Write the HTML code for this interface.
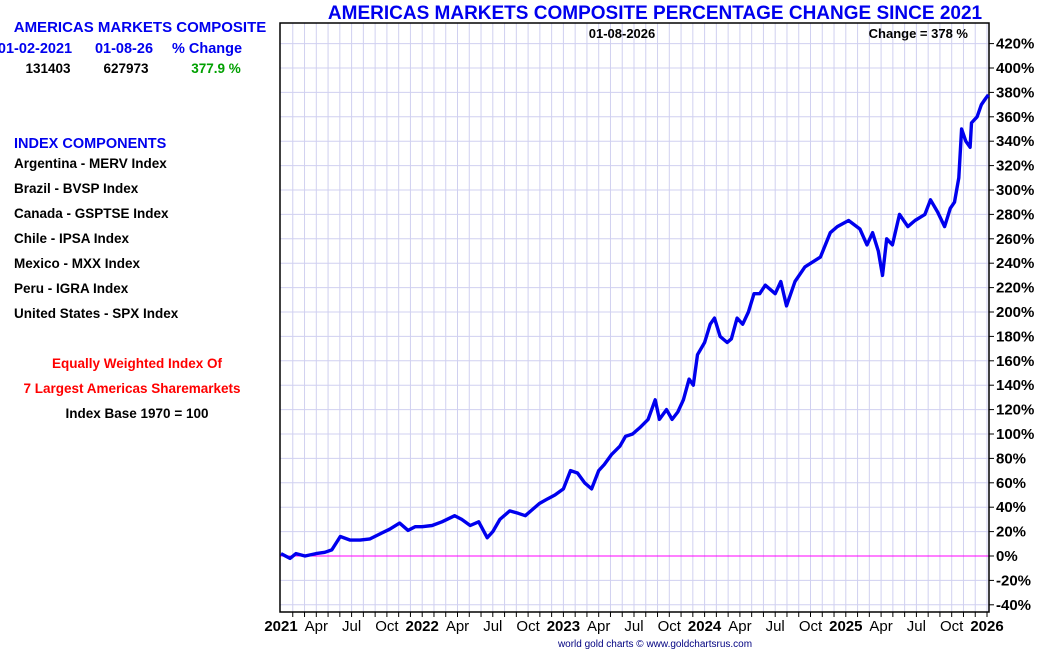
<!DOCTYPE html>
<html><head><meta charset="utf-8"><style>
body{margin:0;background:#fff;width:1050px;height:650px;overflow:hidden;font-family:"Liberation Sans",sans-serif}
svg text{font-family:"Liberation Sans",sans-serif;font-weight:bold}
</style></head><body>
<svg id="chart" width="1050" height="650">
<g id="grid"></g>
<g id="axes"></g>
<path id="series" fill="none" stroke="#0000ee" stroke-width="3.4" stroke-linejoin="round"/>
<text x="655" y="19" text-anchor="middle" font-size="19" fill="#0000ee">AMERICAS MARKETS COMPOSITE PERCENTAGE CHANGE SINCE 2021</text>
<text x="622" y="38" text-anchor="middle" font-size="13" fill="#000">01-08-2026</text>
<text x="968" y="38" text-anchor="end" font-size="13" fill="#000">Change = 378 %</text>
<text x="140" y="32" text-anchor="middle" font-size="15" fill="#0000ee">AMERICAS MARKETS COMPOSITE</text>
<text x="35" y="53" text-anchor="middle" font-size="14.5" fill="#0000ee">01-02-2021</text>
<text x="124" y="53" text-anchor="middle" font-size="14.5" fill="#0000ee">01-08-26</text>
<text x="207" y="53" text-anchor="middle" font-size="14.5" fill="#0000ee">% Change</text>
<text x="48" y="73" text-anchor="middle" font-size="13.5" fill="#000">131403</text>
<text x="126" y="73" text-anchor="middle" font-size="13.5" fill="#000">627973</text>
<text x="216" y="73" text-anchor="middle" font-size="13.5" fill="#00a000">377.9 %</text>
<text x="14" y="148" font-size="14.5" fill="#0000ee">INDEX COMPONENTS</text>
<g font-size="13.5" fill="#000">
<text x="14" y="168">Argentina - MERV Index</text>
<text x="14" y="193">Brazil - BVSP Index</text>
<text x="14" y="218">Canada - GSPTSE Index</text>
<text x="14" y="243">Chile - IPSA Index</text>
<text x="14" y="268">Mexico - MXX Index</text>
<text x="14" y="293">Peru - IGRA Index</text>
<text x="14" y="318">United States - SPX Index</text>
</g>
<text x="137" y="368" text-anchor="middle" font-size="13.5" fill="#ff0000">Equally Weighted Index Of</text>
<text x="132" y="393" text-anchor="middle" font-size="13.5" fill="#ff0000">7 Largest Americas Sharemarkets</text>
<text x="137" y="418" text-anchor="middle" font-size="13.5" fill="#000">Index Base 1970 = 100</text>
<text x="655" y="647" text-anchor="middle" font-size="10" fill="#000080" style="font-weight:normal">world gold charts © www.goldchartsrus.com</text>
</svg>
<script>
const dates=[2021.00,2021.064,2021.106,2021.17,2021.248,2021.31,2021.36,2021.42,2021.49,2021.56,2021.63,2021.70,2021.77,2021.84,2021.90,2021.95,2022.00,2022.07,2022.14,2022.23,2022.28,2022.34,2022.40,2022.46,2022.50,2022.55,2022.62,2022.68,2022.73,2022.78,2022.83,2022.89,2022.94,2023.00,2023.05,2023.10,2023.15,2023.20,2023.25,2023.29,2023.34,2023.40,2023.44,2023.49,2023.54,2023.60,2023.65,2023.68,2023.73,2023.77,2023.81,2023.85,2023.89,2023.92,2023.95,2024.00,2024.04,2024.07,2024.11,2024.16,2024.19,2024.23,2024.27,2024.31,2024.35,2024.39,2024.43,2024.50,2024.54,2024.58,2024.64,2024.71,2024.82,2024.89,2024.94,2025.02,2025.10,2025.15,2025.19,2025.23,2025.26,2025.29,2025.33,2025.38,2025.44,2025.49,2025.56,2025.60,2025.65,2025.70,2025.74,2025.77,2025.80,2025.82,2025.85,2025.88,2025.89,2025.93,2025.96,2025.99,2026.01];
const values=[2,-2,2,0,2,3,5,16,13,13,14,18,22,27,21,24,24,25,28,33,30,25,28,15,20,30,37,35,33,38,43,47,50,55,70,68,60,55,70,75,83,90,98,100,105,112,128,112,120,112,118,128,145,140,165,175,190,195,180,175,178,195,190,200,215,215,222,215,225,205,225,237,245,265,270,275,268,255,265,250,230,260,255,280,270,275,280,292,282,270,285,290,310,350,340,335,355,360,370,375,378];
const yTicks=[-40,-20,0,20,40,60,80,100,120,140,160,180,200,220,240,260,280,300,320,340,360,380,400,420];
const xLabels=["2021","Apr","Jul","Oct","2022","Apr","Jul","Oct","2023","Apr","Jul","Oct","2024","Apr","Jul","Oct","2025","Apr","Jul","Oct","2026"];
const L=280,R=989,T=23,B=612;
const xs=t=>281+(t-2021)*141.2;
const ys=v=>556-v*1.22;
const NS="http://www.w3.org/2000/svg";
const grid=document.getElementById('grid'),axes=document.getElementById('axes');
function mk(tag,at,parent){const e=document.createElementNS(NS,tag);for(const k in at)e.setAttribute(k,at[k]);parent.appendChild(e);return e;}
for(let m=1;m<=60;m++){const x=xs(2021+m/12);
const g=mk('line',{x1:x,x2:x,y1:T,y2:B,stroke:'#d0d0f0','stroke-width':1},grid);


mk('line',{x1:x,x2:x,y1:B,y2:B+5,stroke:'#000'},axes);}
yTicks.forEach(v=>{const y=ys(v);
const g=mk('line',{x1:L,x2:R,y1:y,y2:y,stroke:'#d0d0f0'},grid);


mk('line',{x1:R,x2:R+5,y1:y,y2:y,stroke:'#000'},axes);
const t=mk('text',{x:R+7,y:y+5,'font-size':15,fill:'#000'},axes);t.textContent=v+'%';

});
xLabels.forEach((s,i)=>{const x=xs(2021+i*0.25);
const t=mk('text',{x:x,y:631,'font-size':15,'text-anchor':'middle',fill:'#000',style:/\d/.test(s)?'':'font-weight:normal'},axes);t.textContent=s;

});
const zl=mk('line',{x1:L,x2:R,y1:ys(0),y2:ys(0),stroke:'#ff00ff','stroke-width':1},axes);


const fr=mk('rect',{x:L,y:T,width:R-L,height:B-T,fill:'none',stroke:'#000','stroke-width':1.5},axes);


document.getElementById('series').setAttribute('d',dates.map((d,i)=>(i?'L':'M')+xs(d).toFixed(1)+','+ys(values[i]).toFixed(1)).join(''));
</script>
</body></html>
